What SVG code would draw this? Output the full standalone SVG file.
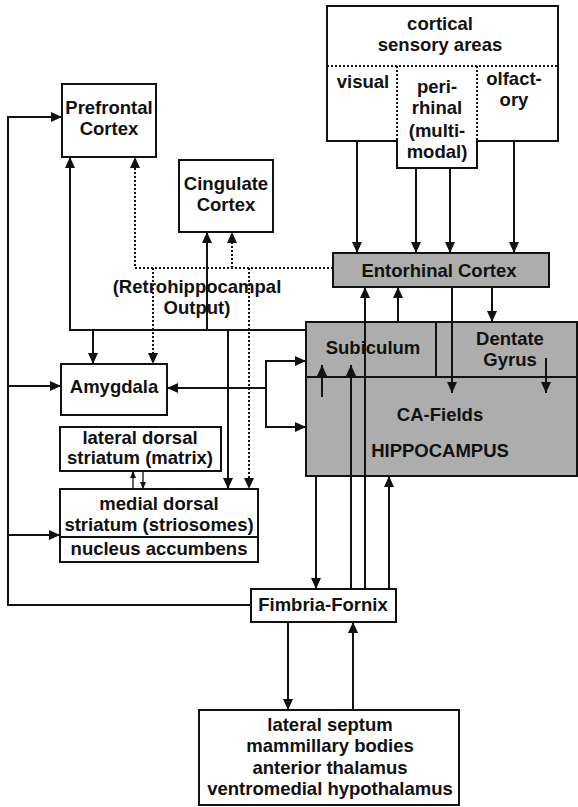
<svg xmlns="http://www.w3.org/2000/svg" width="578" height="807" viewBox="0 0 578 807">
<style>
.box{fill:#fff;stroke:#111;stroke-width:2}
.gray{fill:#adadad;stroke:#111;stroke-width:2}
.ln{fill:none;stroke:#111;stroke-width:2}
.dt{fill:none;stroke:#111;stroke-width:2;stroke-dasharray:2,2}
.thin{fill:none;stroke:#111;stroke-width:1.3}
text{font-family:"Liberation Sans",Arial,sans-serif;font-weight:bold;font-size:18.5px;fill:#111;text-anchor:middle}
</style>
<defs>
<marker id="a" markerUnits="userSpaceOnUse" markerWidth="11" markerHeight="10" refX="11" refY="5" orient="auto"><path d="M0,0 L11,5 L0,10 z" fill="#111"/></marker>
<marker id="s" markerUnits="userSpaceOnUse" markerWidth="7" markerHeight="6" refX="7" refY="3" orient="auto"><path d="M0,0 L7,3 L0,6 z" fill="#111"/></marker>
</defs>

<g id="cortical">
<path class="box" d="M327,6 H558 V141 H477 V168 H397 V141 H327 Z"/>
<path class="dt" d="M327,66 H558 M397,66 V141 M477,66 V141"/>
<text x="440" y="30">cortical</text>
<text x="440" y="51">sensory areas</text>
<text x="363" y="88">visual</text>
<text x="437" y="93">peri-</text>
<text x="437" y="114">rhinal</text>
<text x="437" y="137">(multi-</text>
<text x="437" y="158">modal)</text>
<text x="514" y="85">olfact-</text>
<text x="514" y="106">ory</text>
</g>

<g id="prefrontal">
<rect class="box" x="62" y="84" width="94" height="73"/>
<text x="109" y="114">Prefrontal</text>
<text x="109" y="135">Cortex</text>
</g>

<g id="cingulate">
<rect class="box" x="179" y="160" width="94" height="72"/>
<text x="226" y="190">Cingulate</text>
<text x="226" y="211">Cortex</text>
</g>

<g id="entorhinal">
<rect class="gray" x="333" y="253" width="216" height="34"/>
<text x="439" y="277">Entorhinal Cortex</text>
</g>

<g id="hippocampus">
<rect class="gray" x="306" y="322" width="271" height="154"/>
<path class="ln" d="M306,377 H577 M436,322 V377"/>
<text x="373" y="354">Subiculum</text>
<text x="510" y="345">Dentate</text>
<text x="510" y="366">Gyrus</text>
<text x="440" y="421">CA-Fields</text>
<text x="440" y="457">HIPPOCAMPUS</text>
</g>

<g id="amygdala">
<rect class="box" x="61" y="364" width="106" height="51"/>
<text x="114" y="393">Amygdala</text>
</g>

<g id="lateral-striatum">
<rect class="box" x="60" y="427" width="161" height="44"/>
<text x="140" y="444">lateral dorsal</text>
<text x="140" y="464">striatum (matrix)</text>
</g>

<g id="medial-striatum">
<rect class="box" x="60" y="489" width="198" height="73"/>
<path class="ln" d="M60,537 H258"/>
<text x="159" y="510">medial dorsal</text>
<text x="159" y="531">striatum (striosomes)</text>
<text x="159" y="555">nucleus accumbens</text>
</g>

<g id="fimbria">
<rect class="box" x="251" y="589" width="145" height="33"/>
<text x="323" y="611">Fimbria-Fornix</text>
</g>

<g id="subcortical">
<rect class="box" x="199" y="710" width="260" height="95"/>
<text x="330" y="731">lateral septum</text>
<text x="330" y="752">mammillary bodies</text>
<text x="330" y="774">anterior thalamus</text>
<text x="330" y="795">ventromedial hypothalamus</text>
</g>

<g id="connectors">
<!-- cortical to entorhinal -->
<path class="ln" d="M357,141 V253" marker-end="url(#a)"/>
<path class="ln" d="M416,168 V253" marker-end="url(#a)"/>
<path class="ln" d="M450,168 V253" marker-end="url(#a)"/>
<path class="ln" d="M514,141 V253" marker-end="url(#a)"/>
<!-- entorhinal to hippocampus -->
<path class="ln" d="M452,287 V393" marker-end="url(#a)"/>
<path class="ln" d="M492,287 V322" marker-end="url(#a)"/>
<path class="ln" d="M546,358 V393" marker-end="url(#a)"/>
<path class="ln" d="M398,322 V287" marker-end="url(#a)"/>
<path class="ln" d="M322,397 V365" marker-end="url(#a)"/>
<!-- fimbria lines -->
<path class="ln" d="M316,476 V589" marker-end="url(#a)"/>
<path class="ln" d="M351,589 V365" marker-end="url(#a)"/>
<path class="ln" d="M365,589 V287" marker-end="url(#a)"/>
<path class="ln" d="M389,589 V476" marker-end="url(#a)"/>
<path class="ln" d="M288,622 V710" marker-end="url(#a)"/>
<path class="ln" d="M353,710 V622" marker-end="url(#a)"/>
<!-- left loop -->
<path class="ln" d="M251,605 H8 V117 H62" marker-end="url(#a)"/>
<path class="ln" d="M8,386 H61" marker-end="url(#a)"/>
<path class="ln" d="M8,535 H60" marker-end="url(#a)"/>
<!-- solid output from subiculum -->
<path class="ln" d="M306,330 H70 V157" marker-end="url(#a)"/>
<path class="ln" d="M207,330 V232" marker-end="url(#a)"/>
<path class="ln" d="M93,330 V364" marker-end="url(#a)"/>
<path class="ln" d="M228,330 V489" marker-end="url(#a)"/>
<!-- dotted retrohippocampal output -->
<path class="dt" d="M333,268 H135 V157" marker-end="url(#a)"/>
<path class="dt" d="M232,268 V232" marker-end="url(#a)"/>
<path class="dt" d="M153,268 V364" marker-end="url(#a)"/>
<path class="dt" d="M249,268 V489" marker-end="url(#a)"/>
<!-- amygdala / hippocampus -->
<path class="ln" d="M266,388 H167" marker-end="url(#a)"/>
<path class="ln" d="M266,388 V361 H306" marker-end="url(#a)"/>
<path class="ln" d="M266,388 V427 H306" marker-end="url(#a)"/>
<!-- striatum small arrows -->
<path class="thin" d="M133,489 V471" marker-end="url(#s)"/>
<path class="thin" d="M143,471 V489" marker-end="url(#s)"/>
</g>
<text x="197" y="293">(Retrohippocampal</text>
<text x="197" y="314">Output)</text>
</svg>
